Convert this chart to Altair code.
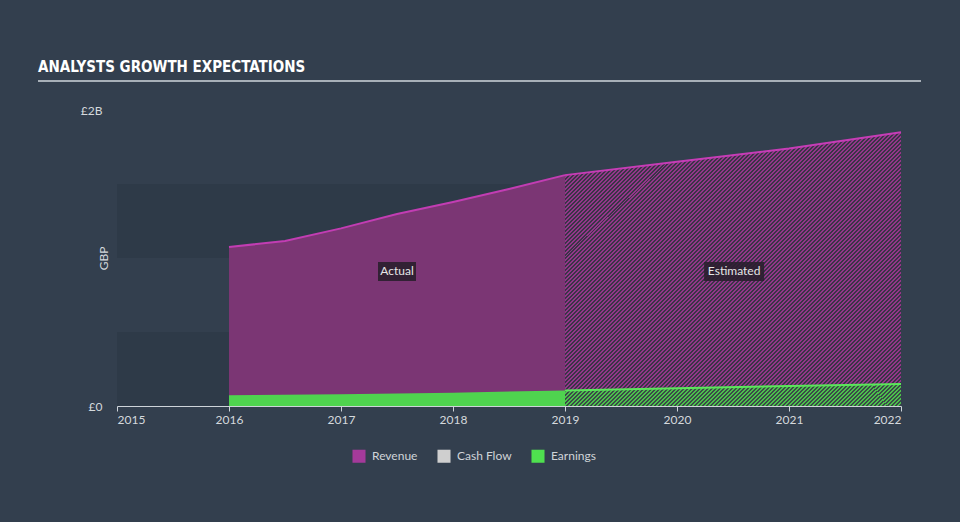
import altair as alt
import pandas as pd

# ---- data (GBP billions) ----
rev_act_years = [2016.0, 2016.5, 2017.0, 2017.5, 2018.0, 2018.5, 2019.0]
rev_act_vals = [1.074, 1.115, 1.20, 1.297, 1.378, 1.466, 1.56]
rev_est_years = [2019.0, 2020.0, 2021.0, 2022.0]
rev_est_vals = [1.56, 1.65, 1.74, 1.85]
earn_act_years = [2016.0, 2017.0, 2018.0, 2019.0]
earn_act_vals = [0.072, 0.08, 0.09, 0.105]
earn_est_years = [2019.0, 2020.0, 2021.0, 2022.0]
earn_est_vals = [0.105, 0.12, 0.135, 0.148]
band_lo = [0.0, 1.0]
band_hi = [0.5, 1.5]
x_ticks = [2015, 2016, 2017, 2018, 2019, 2020, 2021, 2022]
legend_names = ["Revenue", "Cash Flow", "Earnings"]
legend_colors = ["#a43a9a", "#cfcfcf", "#4fe04f"]

BG = "#333f4e"
FONT = "Lato"
TITLE_FONT = "DejaVu Sans Condensed, Roboto, sans-serif"

rev_act = pd.DataFrame({"year": rev_act_years, "v": rev_act_vals})
rev_est = pd.DataFrame({"year": rev_est_years, "v": rev_est_vals})
earn_act = pd.DataFrame({"year": earn_act_years, "v": earn_act_vals})
earn_est = pd.DataFrame({"year": earn_est_years, "v": earn_est_vals})
bands = pd.DataFrame({"x": [2015, 2015], "x2": [2022, 2022], "lo": band_lo, "hi": band_hi})
leg = pd.DataFrame({"name": legend_names, "year": [2016, 2016, 2016], "v": [0, 0, 0]})


def hatch(line_col, gap_col, n, x2, y2, frac=0.5):
    stops = []
    for i in range(n):
        a = round(i / n, 6)
        m = round((i + frac) / n, 6)
        b = round((i + 1) / n, 6)
        stops += [
            alt.GradientStop(offset=a, color=line_col),
            alt.GradientStop(offset=m, color=line_col),
            alt.GradientStop(offset=m, color=gap_col),
            alt.GradientStop(offset=b, color=gap_col),
        ]
    return alt.LinearGradient(gradient="linear", stops=stops, x1=0, y1=0, x2=x2, y2=y2)


xs = alt.Scale(domain=[2015, 2022], nice=False)
ys = alt.Scale(domain=[0, 2], nice=False)

X = alt.X(
    "year:Q",
    scale=xs,
    axis=alt.Axis(
        values=x_ticks, format="d", title=None, grid=False,
        domainColor="#cdd3d9", tickColor="#cdd3d9", tickSize=5,
        labelColor="#d5d9dd", labelFont=FONT, labelFontSize=12, labelPadding=3,
    ),
)
Y = alt.Y(
    "v:Q",
    scale=ys,
    axis=alt.Axis(
        values=[0, 2], title="GBP", grid=False, ticks=False, domain=False,
        labelExpr="datum.value == 0 ? '£0' : '£2B'",
        labelColor="#d5d9dd", labelFont=FONT, labelFontSize=12, labelPadding=15,
        titleColor="#d5d9dd", titleFont=FONT, titleFontSize=12, titleFontWeight="normal",
        titleX=-14, titleY=148, titleAngle=270, titleAlign="center", titleBaseline="middle",
    ),
)

band_layer = alt.Chart(bands).mark_rect(color="#2e3a48").encode(
    x=alt.X("x:Q", scale=xs), x2="x2:Q", y=alt.Y("lo:Q", scale=ys), y2="hi:Q"
)

rev_act_area = alt.Chart(rev_act).mark_area(color="#7b3674", opacity=1).encode(x=X, y=Y)
rev_act_line = alt.Chart(rev_act).mark_line(color="#c23db3", strokeWidth=2).encode(x=X, y=Y)

rev_est_area = alt.Chart(rev_est).mark_area(
    color=hatch("#93368a", "#3a3447", 154, 1.1, 0.8965)
).encode(x=X, y=Y)
rev_est_line = alt.Chart(rev_est).mark_line(color="#c63db6", strokeWidth=2).encode(x=X, y=Y)

earn_act_area = alt.Chart(earn_act).mark_area(color="#4fd34f", opacity=1).encode(x=X, y=Y)
earn_est_area = alt.Chart(earn_est).mark_area(
    color=hatch("#4cbf4c", "#3a4a48", 90, 1.07, 0.0701)
).encode(x=X, y=Y)
earn_est_line = alt.Chart(earn_est).mark_line(color="#5ce65c", strokeWidth=2).encode(x=X, y=Y)

lab_act = pd.DataFrame({"year": [2017.5], "v": [0.909], "t": ["Actual"]})
lab_est = pd.DataFrame({"year": [2020.51], "v": [0.909], "t": ["Estimated"]})

box_act = alt.Chart(lab_act).mark_rect(width=38, height=19, color="#2a1f2e", opacity=0.9).encode(x=X, y=Y)
box_est = alt.Chart(lab_est).mark_rect(width=60, height=19, color="#2a1f2e", opacity=0.9).encode(x=X, y=Y)
txt_act = alt.Chart(lab_act).mark_text(color="#e6e6e6", font=FONT, fontSize=12).encode(x=X, y=Y, text="t:N")
txt_est = alt.Chart(lab_est).mark_text(color="#e6e6e6", font=FONT, fontSize=12).encode(x=X, y=Y, text="t:N")

legend_layer = alt.Chart(leg).mark_square(opacity=0, size=1).encode(
    x=X, y=Y,
    color=alt.Color(
        "name:N",
        scale=alt.Scale(domain=legend_names, range=legend_colors),
        legend=alt.Legend(
            title=None, orient="none", legendX=235, legendY=339, direction="horizontal",
            symbolType="square", symbolSize=170, symbolOpacity=1, symbolStrokeWidth=0,
            labelColor="#d0d4d8", labelFont=FONT, labelFontSize=12, columnPadding=19,
            labelOffset=6,
        ),
    ),
)

underline = alt.Chart(leg).mark_rule(color="#a8b0b8", strokeWidth=2).encode(
    x=alt.value(-79), x2=alt.value(804), y=alt.value(-29)
)

chart = alt.layer(
    band_layer,
    rev_act_area, rev_est_area, rev_act_line, rev_est_line,
    earn_act_area, earn_est_area, earn_est_line,
    box_act, box_est, txt_act, txt_est,
    legend_layer, underline,
).properties(
    width=784,
    height=296,
    background=BG,
    padding={"left": 117, "top": 110, "right": 59, "bottom": 116},
    autosize=alt.AutoSizeParams(type="none"),
    title=alt.TitleParams(
        "ANALYSTS GROWTH EXPECTATIONS", anchor="start", frame="group", dx=-79, offset=5,
        font=TITLE_FONT, fontSize=15, fontWeight="bold", color="#ffffff",
    ),
).configure_view(stroke=None)

chart.save("out.html", embed_options={"renderer": "svg", "actions": False})
